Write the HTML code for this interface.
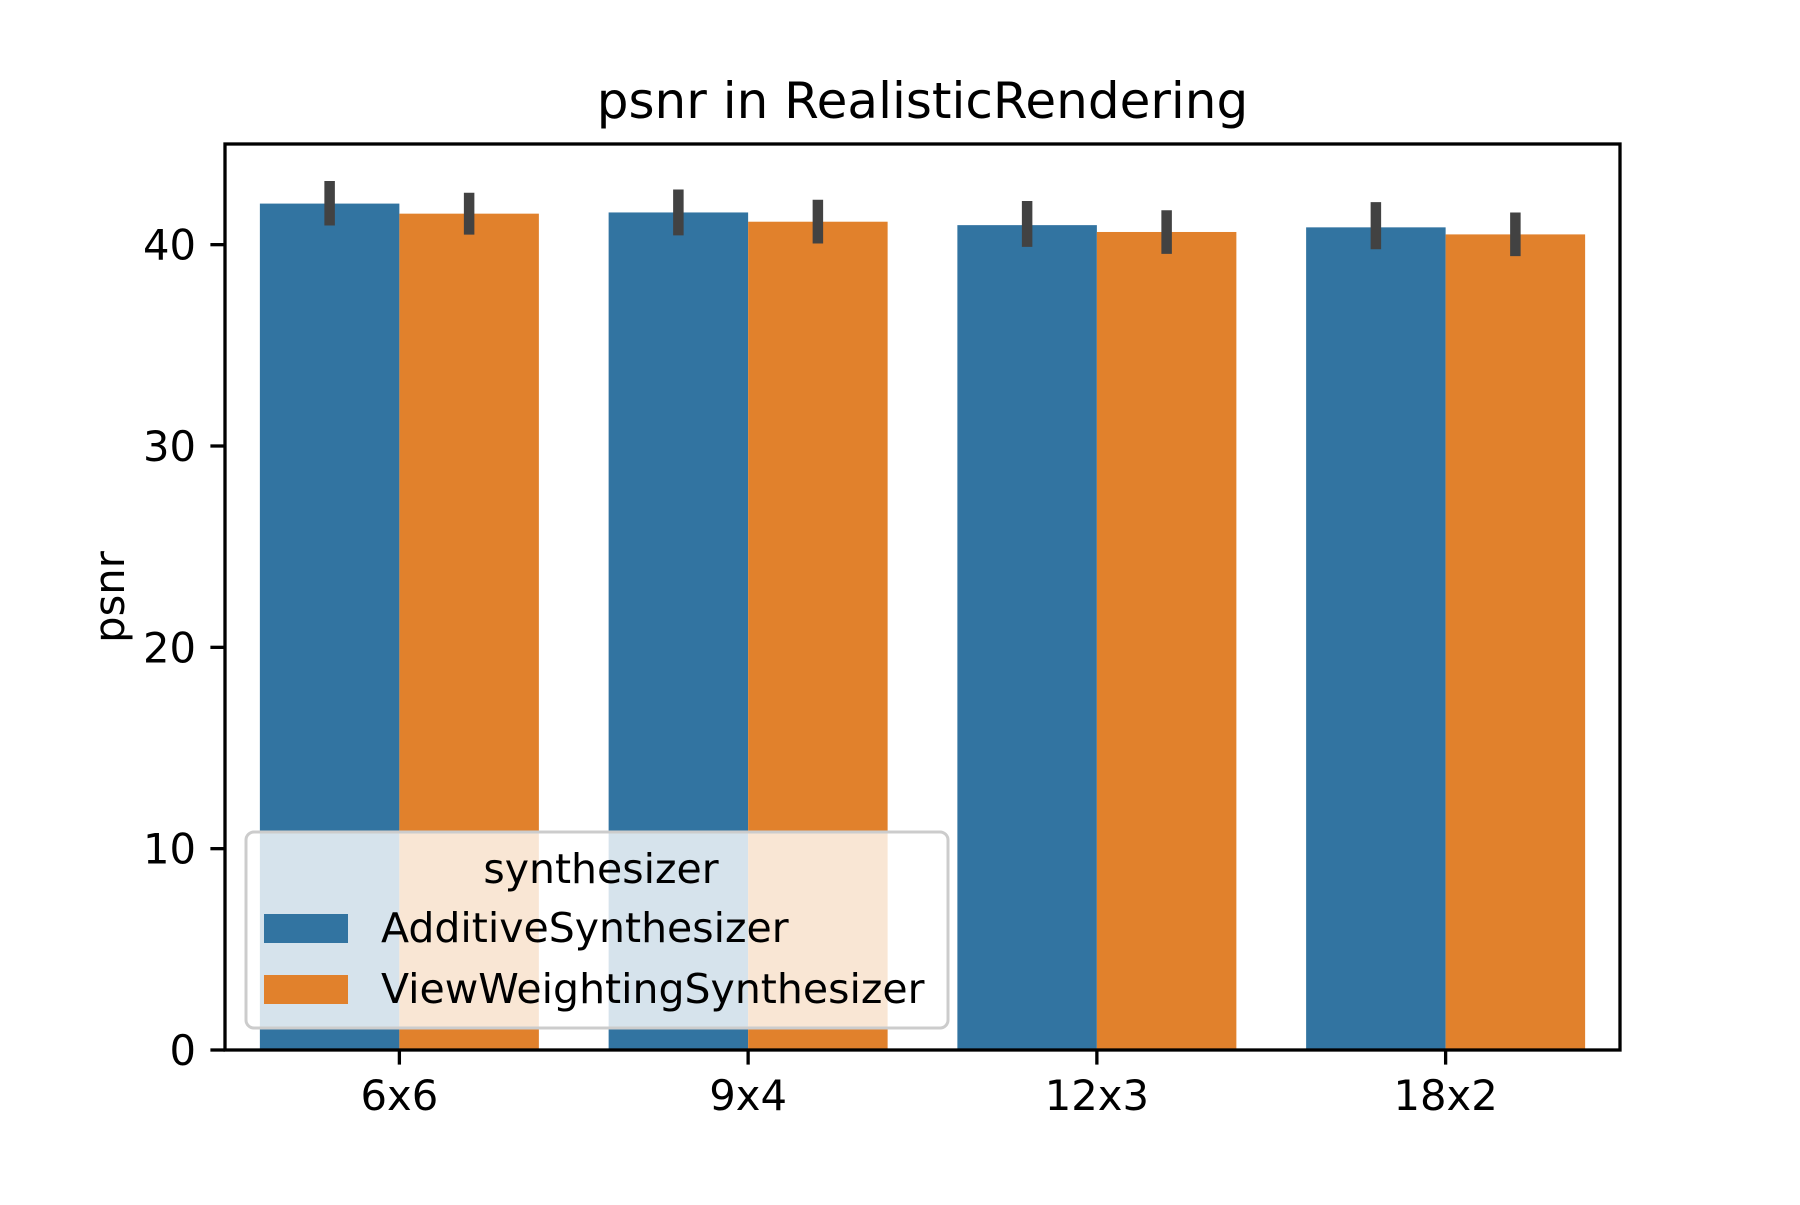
<!DOCTYPE html>
<html><head><meta charset="utf-8"><style>
body{margin:0;background:#fff}
svg text{font-family:"DejaVu Sans","Liberation Sans",sans-serif;fill:#000}
</style></head><body>
<svg id="chart" width="1800" height="1200" viewBox="0 0 1800 1200" xmlns="http://www.w3.org/2000/svg">
<rect width="1800" height="1200" fill="#fff"/>
<g id="bars"></g>
<g id="axes"></g>
</svg>
<script>
const categories = ["6x6","9x4","12x3","18x2"];
const seriesNames = ["AdditiveSynthesizer","ViewWeightingSynthesizer"];
const additive = [42.04, 41.6, 40.97, 40.86];
const additiveLo = [40.95, 40.46, 39.89, 39.77];
const additiveHi = [43.16, 42.74, 42.17, 42.11];
const viewWeighting = [41.54, 41.14, 40.63, 40.51];
const viewLo = [40.5, 40.06, 39.54, 39.43];
const viewHi = [42.58, 42.23, 41.71, 41.6];
const yTicks = [0, 10, 20, 30, 40];
const yMax = 45;

const NS = "http://www.w3.org/2000/svg";
const L = 225, R = 1620, T = 144, B = 1050;
const colors = ["#3274a1", "#e1812c"];
const band = (R - L) / categories.length;
function xCenter(i){ return L + band * (i + 0.5); }
function y(v){ return B - (v / yMax) * (B - T); }
function mk(tag, attrs, parent){
  const e = document.createElementNS(NS, tag);
  for (const k in attrs) e.setAttribute(k, attrs[k]);
  parent.appendChild(e); return e;
}
const bars = document.getElementById("bars");
const axes = document.getElementById("axes");
const series = [[additive, additiveLo, additiveHi], [viewWeighting, viewLo, viewHi]];
const bw = band * 0.8 / 2;
series.forEach((s, si) => {
  categories.forEach((c, i) => {
    const x0 = xCenter(i) - band * 0.4 + si * bw;
    const r = mk("rect", {x: x0, y: y(s[0][i]), width: bw, height: B - y(s[0][i]), fill: colors[si]}, bars);
    
    
    const e = mk("line", {x1: x0 + bw/2, x2: x0 + bw/2, y1: y(s[1][i]), y2: y(s[2][i]), stroke: "#424242", "stroke-width": 10.5}, bars);
    
    
  });
});
const fr = mk("rect", {x: L, y: T, width: R - L, height: B - T, fill: "none", stroke: "#000", "stroke-width": 3.3}, axes);


yTicks.forEach(t => {
  const tk = mk("line", {x1: L - 14.6, x2: L, y1: y(t), y2: y(t), stroke: "#000", "stroke-width": 3.3}, axes);
  
  
  const tx = mk("text", {x: L - 29, y: y(t) + 15, "text-anchor": "end", "font-size": 41.7}, axes);
  tx.textContent = t;
  
  
});
categories.forEach((c, i) => {
  const tk = mk("line", {x1: xCenter(i), x2: xCenter(i), y1: B, y2: B + 14.6, stroke: "#000", "stroke-width": 3.3}, axes);
  
  
  const tx = mk("text", {x: xCenter(i), y: B + 60, "text-anchor": "middle", "font-size": 41.7}, axes);
  tx.textContent = c;
  
  
});
const yl = mk("text", {x: 0, y: 0, transform: "translate(124,597) rotate(-90)", "text-anchor": "middle", "font-size": 41.7}, axes);
yl.textContent = "psnr";


const ti = mk("text", {x: (L + R) / 2, y: 118, "text-anchor": "middle", "font-size": 50}, axes);
ti.textContent = "psnr in RealisticRendering";


const lg = mk("g", {}, axes);


mk("rect", {x: 246, y: 832, width: 702, height: 196, rx: 8, fill: "#fff", "fill-opacity": 0.8, stroke: "#ccc", "stroke-width": 3}, lg);
const lt = mk("text", {x: 601, y: 883, "text-anchor": "middle", "font-size": 41}, lg);
lt.textContent = "synthesizer";


seriesNames.forEach((n, si) => {
  const yy = 914 + si * 61;
  const p = mk("rect", {x: 264, y: yy, width: 84, height: 29, fill: colors[si]}, lg);
  
  
  const t = mk("text", {x: 381, y: yy + 28, "font-size": 41}, lg);
  t.textContent = n;
  
  
});
</script>
</body></html>
